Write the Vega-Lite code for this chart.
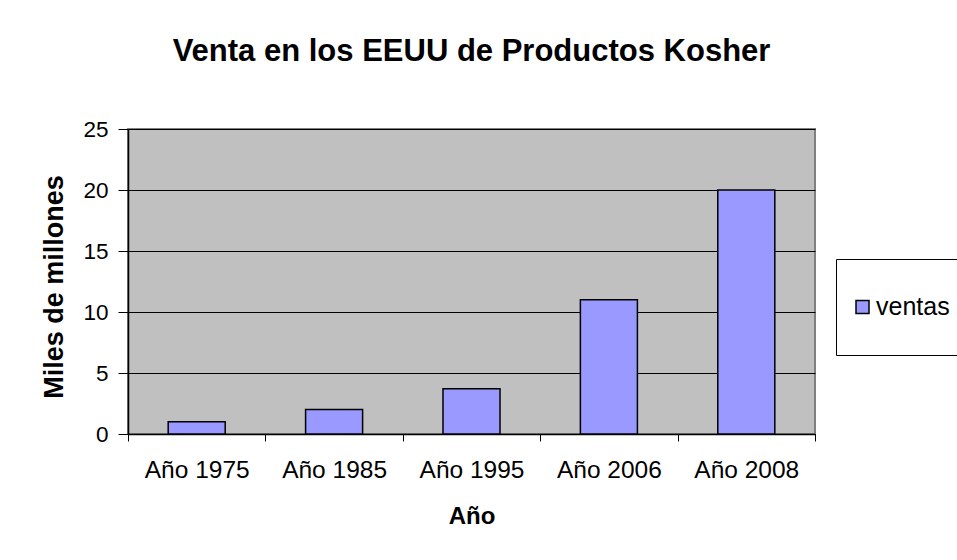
{
  "$schema": "https://vega.github.io/schema/vega-lite/v6.json",
  "autosize": {"type": "none"},
  "padding": {"left": 128, "top": 129, "right": 142, "bottom": 126},
  "width": 687,
  "height": 305,
  "background": "white",
  "title": {
    "text": "Venta en los EEUU de Productos Kosher",
    "font": "Liberation Sans",
    "fontSize": 31,
    "fontWeight": "bold",
    "color": "#000000",
    "anchor": "middle",
    "baseline": "alphabetic",
    "offset": 26
  },
  "data": {
    "values": [
      {"anio": "Año 1975", "ventas": 1, "serie": "ventas"},
      {"anio": "Año 1985", "ventas": 2, "serie": "ventas"},
      {"anio": "Año 1995", "ventas": 3.7, "serie": "ventas"},
      {"anio": "Año 2006", "ventas": 11, "serie": "ventas"},
      {"anio": "Año 2008", "ventas": 20, "serie": "ventas"}
    ]
  },
  "mark": {"type": "bar", "width": {"band": 0.415}, "stroke": "#000000", "strokeWidth": 1.5},
  "encoding": {
    "x": {
      "field": "anio",
      "type": "nominal",
      "sort": null,
      "scale": {"paddingInner": 0, "paddingOuter": 0},
      "axis": {
        "title": "Año",
        "titleFont": "Liberation Sans",
        "titleFontSize": 24,
        "titleFontWeight": "bold",
        "titleColor": "#000000",
        "titleBaseline": "alphabetic",
        "titleY": 89,
        "labelAngle": 0,
        "labelFont": "Liberation Sans",
        "labelFontSize": 24.5,
        "labelColor": "#000000",
        "labelPadding": 17.5,
        "tickBand": "extent",
        "tickSize": 7,
        "tickColor": "#000000",
        "domainColor": "#000000",
        "domainWidth": 1.5,
        "grid": false
      }
    },
    "y": {
      "field": "ventas",
      "type": "quantitative",
      "scale": {"domain": [0, 25], "nice": false},
      "axis": {
        "title": "Miles de millones",
        "titleFont": "Liberation Sans",
        "titleFontSize": 27,
        "titleFontWeight": "bold",
        "titleColor": "#000000",
        "titleBaseline": "alphabetic",
        "titleX": -65.5,
        "titleY": 157.5,
        "values": [0, 5, 10, 15, 20, 25],
        "labelFont": "Liberation Sans",
        "labelFontSize": 22.5,
        "labelColor": "#000000",
        "labelPadding": 10,
        "tickSize": 10,
        "tickColor": "#000000",
        "domainColor": "#000000",
        "domainWidth": 1.5,
        "grid": true,
        "gridColor": "#000000",
        "gridWidth": 1
      }
    },
    "color": {
      "field": "serie",
      "type": "nominal",
      "scale": {"range": ["#9999FF"]},
      "legend": {
        "title": null,
        "orient": "none",
        "legendX": 708,
        "legendY": 130,
        "fillColor": "#FFFFFF",
        "strokeColor": "#000000",
        "padding": 14,
        "clipHeight": 68,
        "symbolType": "square",
        "symbolSize": 169,
        "symbolStrokeColor": "#000000",
        "symbolStrokeWidth": 1.5,
        "symbolOpacity": 1,
        "labelFont": "Liberation Sans",
        "labelFontSize": 25,
        "labelColor": "#000000",
        "labelOffset": 1
      }
    }
  },
  "config": {
    "view": {"fill": "#C0C0C0", "stroke": "#808080", "strokeWidth": 2}
  }
}
